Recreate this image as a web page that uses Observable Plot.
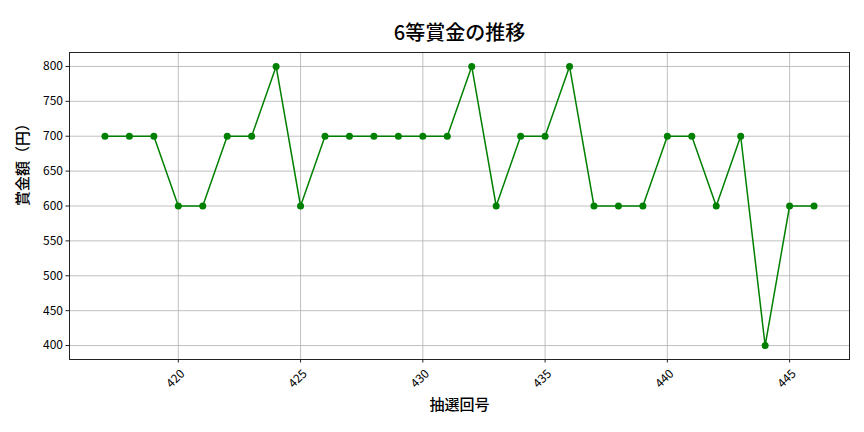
<!DOCTYPE html>
<html>
<head>
<meta charset="utf-8">
<script src="https://cdn.jsdelivr.net/npm/d3@7"></script>
<script src="https://cdn.jsdelivr.net/npm/@observablehq/plot@0.6"></script>
<style>
  html, body { margin: 0; padding: 0; background: #fff; }
  svg { font-family: "Noto Sans CJK JP", "Noto Sans", sans-serif; }
</style>
</head>
<body>
<div id="chart"></div>
<script>
const draws = [417,418,419,420,421,422,423,424,425,426,427,428,429,430,431,432,433,434,435,436,437,438,439,440,441,442,443,444,445,446];
const prizes = [700,700,700,600,600,700,700,800,600,700,700,700,700,700,700,800,600,700,700,800,600,600,600,700,700,600,700,400,600,600];
const xTicks = [420,425,430,435,440,445];
const yTicks = [400,450,500,550,600,650,700,750,800];
const title = "6等賞金の推移";
const xLabel = "抽選回号";
const yLabel = "賞金額（円）";

const data = draws.map((d, i) => ({draw: d, prize: prizes[i]}));
const font = "Noto Sans CJK JP";

const chart = Plot.plot({
  width: 864,
  height: 432,
  marginLeft: 69,
  marginRight: 15,
  marginTop: 52,
  marginBottom: 73,
  style: {fontFamily: font, fontSize: "12px", color: "#000", background: "#fff"},
  x: {domain: [415.55, 447.45], label: null},
  y: {domain: [380, 820], label: null},
  marks: [
    Plot.gridX(xTicks, {stroke: "#b0b0b0", strokeOpacity: 1, strokeWidth: 0.8}),
    Plot.gridY(yTicks, {stroke: "#b0b0b0", strokeOpacity: 1, strokeWidth: 0.8}),
    Plot.axisY(yTicks, {tickSize: 3.5, tickPadding: 3, fontSize: 12, label: null, stroke: "#222"}),
    Plot.axisX(xTicks, {tickSize: 3.5, tickFormat: () => "", label: null, stroke: "#222"}),
    Plot.text(xTicks, {x: d => d, text: d => String(d), frameAnchor: "bottom", dy: 22, rotate: -45, textAnchor: "middle", fontSize: 12, fill: "#000"}),
    Plot.frame({stroke: "#222", strokeWidth: 1}),
    Plot.line(data, {x: "draw", y: "prize", stroke: "#008000", strokeWidth: 1.5}),
    Plot.dot(data, {x: "draw", y: "prize", r: 3.5, fill: "#008000", stroke: "none"}),
    Plot.text([title], {text: d => d, frameAnchor: "top", dy: -27, fontSize: 20, fontWeight: 500, fill: "#000"}),
    Plot.text([xLabel], {text: d => d, frameAnchor: "bottom", dy: 50, fontSize: 15, fontWeight: 500, fill: "#000"}),
    Plot.text([yLabel], {text: d => d, frameAnchor: "left", dx: -46, rotate: -90, fontSize: 15, fontWeight: 500, fill: "#000"})
  ]
});
document.getElementById("chart").appendChild(chart);
</script>
</body>
</html>
